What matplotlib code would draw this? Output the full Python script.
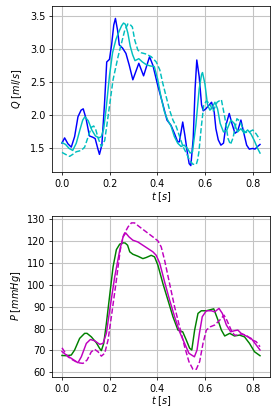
import matplotlib
matplotlib.use("Agg")
import matplotlib.pyplot as plt

# flow, top panel
t_q_meas = [0, 0.011, 0.025, 0.039, 0.053, 0.067, 0.08, 0.089, 0.101, 0.115, 0.129, 0.139, 0.15, 0.157,
            0.167, 0.178, 0.1875, 0.199, 0.208, 0.217, 0.224, 0.233, 0.24, 0.254, 0.268, 0.282, 0.297,
            0.322, 0.342, 0.367, 0.381, 0.401, 0.422, 0.44, 0.457, 0.471, 0.485, 0.492, 0.506, 0.515,
            0.526, 0.533, 0.54, 0.55, 0.558, 0.565, 0.575, 0.585, 0.592, 0.603, 0.617, 0.627, 0.638,
            0.645, 0.655, 0.666, 0.677, 0.687, 0.701, 0.712, 0.725, 0.736, 0.75, 0.761, 0.774, 0.785,
            0.799, 0.809, 0.82, 0.83]
q_meas = [1.58, 1.66, 1.57, 1.52, 1.68, 1.98, 2.08, 2.1, 1.95, 1.69, 1.67, 1.65, 1.5, 1.41,
          1.55, 2.16, 2.81, 2.85, 3.07, 3.37, 3.47, 3.29, 3.07, 3.02, 2.94, 2.76, 2.54,
          2.79, 2.6, 2.89, 2.76, 2.46, 2.18, 1.93, 1.85, 1.73, 1.6, 1.6, 1.9, 1.7,
          1.42, 1.27, 1.24, 1.65, 2.41, 2.84, 2.59, 2.16, 2.07, 2.1, 2.16, 2.2, 2.05,
          1.8, 1.63, 1.55, 1.58, 1.85, 2.03, 1.88, 1.73, 1.76, 1.93, 1.75, 1.55, 1.49,
          1.5, 1.49, 1.53, 1.56]

t_q_sim = [0, 0.015, 0.03, 0.045, 0.06, 0.075, 0.087, 0.096, 0.11, 0.125, 0.14, 0.155, 0.165, 0.175,
           0.185, 0.199, 0.212, 0.226, 0.24, 0.25, 0.258, 0.266, 0.276, 0.286, 0.296, 0.306, 0.322,
           0.337, 0.353, 0.37, 0.387, 0.401, 0.415, 0.429, 0.443, 0.457, 0.471, 0.485, 0.499, 0.512,
           0.526, 0.537, 0.547, 0.561, 0.575, 0.585, 0.589, 0.599, 0.61, 0.62, 0.631, 0.641, 0.652,
           0.663, 0.677, 0.691, 0.708, 0.722, 0.736, 0.75, 0.764, 0.778, 0.792, 0.806, 0.82, 0.83]
q_sim = [1.59, 1.56, 1.5, 1.47, 1.58, 1.78, 1.93, 1.98, 1.92, 1.78, 1.69, 1.66, 1.68, 1.8,
         2.1, 2.6, 2.95, 3.15, 3.28, 3.36, 3.4, 3.38, 3.25, 3.05, 2.92, 2.83, 2.86,
         2.81, 2.77, 2.75, 2.74, 2.55, 2.28, 2.06, 1.93, 1.84, 1.68, 1.58, 1.53, 1.55,
         1.5, 1.43, 1.45, 1.85, 2.4, 2.62, 2.65, 2.48, 2.16, 2.08, 2.13, 2.2, 2.1,
         1.88, 1.75, 1.78, 1.93, 1.88, 1.75, 1.8, 1.73, 1.78, 1.72, 1.62, 1.5, 1.43]

t_q_sim2 = [0, 0.015, 0.032, 0.045, 0.06, 0.081, 0.095, 0.11, 0.123, 0.133, 0.142, 0.151, 0.165, 0.179,
            0.193, 0.214, 0.235, 0.249, 0.263, 0.277, 0.285, 0.295, 0.305, 0.318, 0.332, 0.353, 0.374,
            0.395, 0.41, 0.423, 0.437, 0.451, 0.465, 0.479, 0.493, 0.507, 0.521, 0.535, 0.549, 0.563,
            0.568, 0.574, 0.584, 0.594, 0.605, 0.619, 0.633, 0.65, 0.668, 0.682, 0.696, 0.706, 0.717,
            0.733, 0.744, 0.765, 0.779, 0.8, 0.814, 0.83]
q_sim2 = [1.44, 1.41, 1.38, 1.41, 1.45, 1.47, 1.52, 1.68, 1.82, 1.84, 1.78, 1.66, 1.53, 1.62,
          1.98, 2.54, 2.89, 3.09, 3.29, 3.39, 3.38, 3.34, 3.14, 2.99, 2.95, 2.93, 2.89,
          2.81, 2.69, 2.48, 2.28, 2.08, 1.93, 1.83, 1.68, 1.53, 1.43, 1.32, 1.26, 1.26,
          1.32, 1.45, 1.83, 2.15, 2.22, 2.18, 2.06, 2.2, 2.24, 1.98, 1.65, 1.56, 1.66,
          1.95, 1.92, 1.75, 1.74, 1.78, 1.72, 1.63]

# pressure, bottom panel
t_p_meas = [0, 0.018, 0.039, 0.053, 0.074, 0.095, 0.105, 0.123, 0.144, 0.158, 0.165, 0.175, 0.186,
            0.2, 0.214, 0.228, 0.242, 0.256, 0.265, 0.275, 0.284, 0.297, 0.318, 0.339, 0.353, 0.374,
            0.388, 0.402, 0.423, 0.444, 0.465, 0.486, 0.506, 0.52, 0.535, 0.544, 0.556, 0.57, 0.584,
            0.605, 0.626, 0.636, 0.654, 0.668, 0.682, 0.703, 0.723, 0.744, 0.765, 0.786, 0.807, 0.83]
p_meas = [67.7, 67.6, 67.9, 70.2, 75.5, 77.8, 77.8, 76.2, 73.5, 70.9, 69.9, 73.2, 82.3,
          95.2, 108.1, 116, 118.5, 119.1, 119, 118, 115, 113.9, 113, 111.9, 112.4, 113.4,
          112.7, 108.9, 100.5, 93, 85.4, 79.3, 78.5, 75, 71, 70.2, 79.3, 86.9, 88.1,
          88.1, 88.7, 89, 83.8, 79.3, 76.6, 77.8, 76.6, 77, 76.2, 73.2, 69.4, 67.6]

t_p_sim = [0, 0.018, 0.039, 0.06, 0.067, 0.081, 0.102, 0.119, 0.137, 0.158, 0.172, 0.186, 0.2,
           0.221, 0.242, 0.256, 0.267, 0.281, 0.297, 0.318, 0.339, 0.36, 0.381, 0.395, 0.41, 0.43,
           0.451, 0.472, 0.493, 0.514, 0.532, 0.555, 0.566, 0.576, 0.588, 0.605, 0.626, 0.64, 0.658,
           0.672, 0.689, 0.707, 0.723, 0.737, 0.751, 0.772, 0.793, 0.814, 0.83]
p_sim = [69.5, 67.9, 66.4, 64.9, 64.4, 67.1, 73.2, 75, 74.4, 72.8, 73.2, 77.8, 88.4,
         103.6, 115.7, 121.8, 123.6, 121.8, 120.3, 119.5, 118, 116.5, 115, 113.4, 109.7, 101.3,
         93, 85.4, 78.5, 73.2, 68.7, 67.1, 70.2, 77.8, 85.4, 88.1, 88.1, 87.6, 89.2,
         86.9, 81.6, 78.5, 79, 79.3, 77.8, 76.6, 75.5, 72.5, 70.2]

t_p_sim2 = [0, 0.011, 0.025, 0.046, 0.067, 0.088, 0.105, 0.123, 0.137, 0.151, 0.165, 0.179, 0.193,
            0.207, 0.228, 0.244, 0.258, 0.277, 0.291, 0.304, 0.325, 0.353, 0.381, 0.402, 0.416,
            0.43, 0.451, 0.472, 0.493, 0.514, 0.532, 0.549, 0.563, 0.577, 0.591, 0.605, 0.622,
            0.64, 0.661, 0.679, 0.691, 0.709, 0.723, 0.737, 0.751, 0.772, 0.793, 0.814, 0.83]
p_sim2 = [71.2, 69.4, 67.1, 65.6, 64.4, 64.1, 65.6, 69.4, 70.5, 69.4, 67.4, 68.7, 74.7,
          85.4, 102.1, 115.7, 122.6, 126.4, 128.2, 128.2, 126.4, 124.1, 121.8, 120, 117.2,
          111.2, 100.5, 89.9, 80.8, 71.7, 64.9, 61.4, 61.4, 64.9, 73.2, 79.3, 80.8,
          81.6, 83.8, 86.1, 83.8, 79.3, 77, 77, 77.5, 77, 75, 74, 71.7]

q_ticks = [1.5, 2.0, 2.5, 3.0, 3.5]
p_ticks = [60, 70, 80, 90, 100, 110, 120, 130]
t_ticks = [0.0, 0.2, 0.4, 0.6, 0.8]

fig = plt.figure(figsize=(4, 6), dpi=70)
ax1 = fig.add_axes([0.186, 0.590, 0.778, 0.396])
ax2 = fig.add_axes([0.186, 0.103, 0.778, 0.383])

ax1.plot(t_q_meas, q_meas, "b-", lw=1.5)
ax1.plot(t_q_sim, q_sim, "c-", lw=1.5)
ax1.plot(t_q_sim2, q_sim2, "c--", lw=1.5)
ax1.set_yticks(q_ticks)
ax1.set_ylim(1.14, 3.66)
ax1.set_ylabel("$Q$ [$ml/s$]", labelpad=6)

ax2.plot(t_p_meas, p_meas, "g-", lw=1.5)
ax2.plot(t_p_sim, p_sim, "m-", lw=1.5)
ax2.plot(t_p_sim2, p_sim2, "m--", lw=1.5)
ax2.set_yticks(p_ticks)
ax2.set_ylim(58.0, 131.4)
ax2.set_ylabel("$P$ [$mmHg$]")

for ax in (ax1, ax2):
    ax.set_xticks(t_ticks)
    ax.set_xlim(-0.0415, 0.8715)
    ax.set_xlabel("$t$ [$s$]", labelpad=1)
    ax.grid(True, color="#c4c4c4", lw=1.1)

fig.savefig("out.png", dpi=70)
